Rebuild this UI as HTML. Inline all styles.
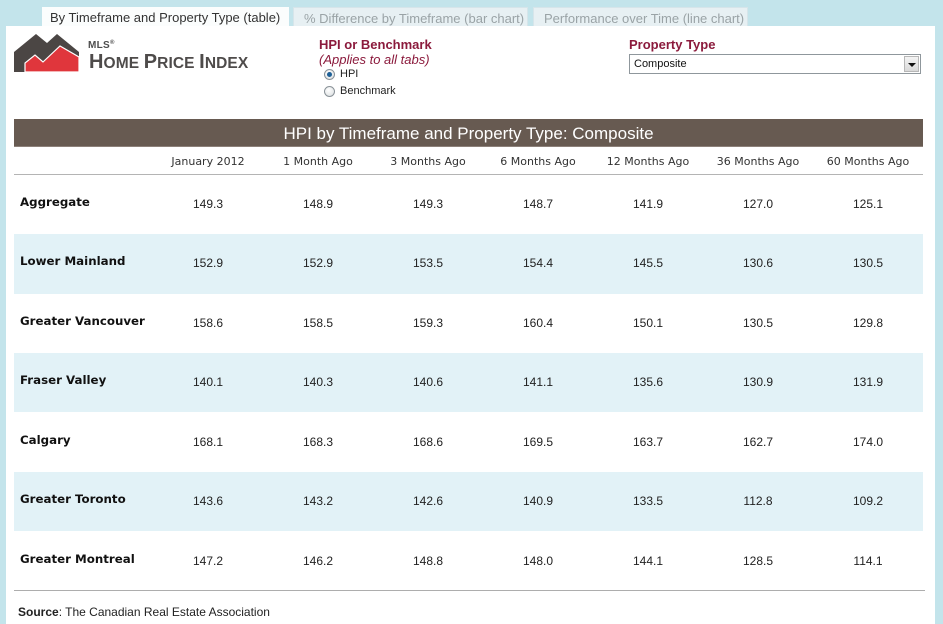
<!DOCTYPE html>
<html>
<head>
<meta charset="utf-8">
<style>
  html,body{margin:0;padding:0;}
  body{width:943px;height:624px;background:#c3e4eb;position:relative;overflow:hidden;font-family:"Liberation Sans",Arial,sans-serif;}
  .abs{position:absolute;}
  .panel{left:6px;top:26px;width:929px;height:598px;background:#fff;}
  .tab{top:7px;height:19px;font-size:13px;line-height:21px;box-sizing:border-box;white-space:nowrap;}
  .tab1{left:42px;width:247px;background:#fbfdfd;color:#333;padding-left:8px;}
  .tab2{left:293px;width:235px;background:#e7f0f3;color:#9aa3a6;padding-left:10px;border:1px solid #d6e5ea;border-bottom:none;}
  .tab3{left:533px;width:215px;background:#e7f0f3;color:#9aa3a6;padding-left:10px;border:1px solid #d6e5ea;border-bottom:none;}
  .lbl{font-size:13px;font-weight:bold;color:#8b1a3c;white-space:nowrap;}
  .ital{font-size:13px;font-style:italic;color:#8b1a3c;white-space:nowrap;}
  .rtext{font-size:11px;color:#222;white-space:nowrap;}
  .radio{width:11px;height:11px;border-radius:50%;border:1px solid #8a9298;background:radial-gradient(circle at 40% 35%,#fff,#d8dcde);box-sizing:border-box;}
  .radio.on::after{content:"";position:absolute;left:2px;top:2px;width:5px;height:5px;border-radius:50%;background:#1d5f96;}
  .sel{left:629px;top:54px;width:292px;height:20px;border:1px solid #8f979c;box-sizing:border-box;background:#fff;font-size:11px;line-height:18px;padding-left:4px;color:#111;}
  .selbtn{right:1px;top:1px;width:15px;height:16px;background:linear-gradient(#f4f4f4,#d9d9d9);border:1px solid #b7b7b7;box-sizing:border-box;}
  .selbtn::after{content:"";position:absolute;left:3px;top:6px;border-left:4px solid transparent;border-right:4px solid transparent;border-top:4px solid #111;}
  .titlebar{left:14px;top:119px;width:909px;height:28px;background:#675a51;color:#fff;font-size:17px;line-height:29px;text-align:center;border-bottom:1px solid #8d817a;box-sizing:border-box;}
  .hdr{top:148px;height:26px;font-family:"DejaVu Sans",Verdana,sans-serif;font-size:11px;line-height:27px;color:#333;text-align:center;width:110px;white-space:nowrap;}
  .hline{left:14px;top:174px;width:909px;height:1px;background:#b4b4b4;}
  .row{left:14px;width:909px;height:59.3px;}
  .blue{background:#e2f2f7;}
  .name{left:20px;font-family:"DejaVu Sans",Verdana,sans-serif;font-weight:bold;font-size:11.8px;color:#111;white-space:nowrap;}
  .val{width:110px;text-align:center;font-size:12px;color:#222;}
  .bline{left:14px;top:590px;width:911px;height:1px;background:#adadad;}
  .src{left:18px;top:605px;font-size:12px;color:#222;white-space:nowrap;}
</style>
</head>
<body>
  <div class="abs panel"></div>
  <div class="abs tab tab1">By Timeframe and Property Type (table)</div>
  <div class="abs tab tab2">% Difference by Timeframe (bar chart)</div>
  <div class="abs tab tab3">Performance over Time (line chart)</div>

  <!-- Logo -->
  <svg class="abs" style="left:0;top:0" width="90" height="80" viewBox="0 0 90 80">
    <polygon points="14,52 36,34 47,43 57,34 79,52 79,72 14,72" fill="#4b4644"/>
    <polygon points="25,72 25,63 35,55 43,62 60,46 79,57 79,72" fill="#e0363c" stroke="#fff" stroke-width="1.2"/>
  </svg>
  <div class="abs" style="left:88px;top:40px;font-size:10px;font-weight:bold;color:#4d4d4d;letter-spacing:0.3px;">MLS<sup style="font-size:6px;vertical-align:4px;">®</sup></div>
  <div class="abs" style="left:89px;top:51px;font-weight:bold;color:#4e4b4a;white-space:nowrap;line-height:22px;letter-spacing:0.1px;">
    <span style="font-size:20px;">H</span><span style="font-size:15.5px;">OME</span> <span style="font-size:20px;">P</span><span style="font-size:15.5px;">RICE</span> <span style="font-size:20px;">I</span><span style="font-size:15.5px;">NDEX</span>
  </div>

  <!-- HPI or Benchmark -->
  <div class="abs lbl" style="left:319px;top:37px;">HPI or Benchmark</div>
  <div class="abs ital" style="left:319px;top:52px;">(Applies to all tabs)</div>
  <div class="abs radio on" style="left:324px;top:69px;"></div>
  <div class="abs rtext" style="left:340px;top:68px;">HPI</div>
  <div class="abs radio" style="left:324px;top:86px;"></div>
  <div class="abs rtext" style="left:340px;top:85px;">Benchmark</div>

  <!-- Property Type -->
  <div class="abs lbl" style="left:629px;top:37px;">Property Type</div>
  <div class="abs sel">Composite<div class="abs selbtn"></div></div>

  <!-- Table -->
  <div class="abs titlebar">HPI by Timeframe and Property Type: Composite</div>

  <div class="abs hdr" style="left:153px;">January 2012</div>
  <div class="abs hdr" style="left:263px;">1 Month Ago</div>
  <div class="abs hdr" style="left:373px;">3 Months Ago</div>
  <div class="abs hdr" style="left:483px;">6 Months Ago</div>
  <div class="abs hdr" style="left:593px;">12 Months Ago</div>
  <div class="abs hdr" style="left:703px;">36 Months Ago</div>
  <div class="abs hdr" style="left:813px;">60 Months Ago</div>
  <div class="abs hline"></div>

  <div class="abs row" style="top:175px;"></div>
  <div class="abs row blue" style="top:234.3px;"></div>
  <div class="abs row" style="top:293.6px;"></div>
  <div class="abs row blue" style="top:352.9px;"></div>
  <div class="abs row" style="top:412.2px;"></div>
  <div class="abs row blue" style="top:471.5px;"></div>
  <div class="abs row" style="top:530.8px;"></div>

  <!-- Row 1 -->
  <div class="abs name" style="top:195px;">Aggregate</div>
  <div class="abs val" style="left:153px;top:197px;">149.3</div>
  <div class="abs val" style="left:263px;top:197px;">148.9</div>
  <div class="abs val" style="left:373px;top:197px;">149.3</div>
  <div class="abs val" style="left:483px;top:197px;">148.7</div>
  <div class="abs val" style="left:593px;top:197px;">141.9</div>
  <div class="abs val" style="left:703px;top:197px;">127.0</div>
  <div class="abs val" style="left:813px;top:197px;">125.1</div>
  <!-- Row 2 -->
  <div class="abs name" style="top:254px;">Lower Mainland</div>
  <div class="abs val" style="left:153px;top:256px;">152.9</div>
  <div class="abs val" style="left:263px;top:256px;">152.9</div>
  <div class="abs val" style="left:373px;top:256px;">153.5</div>
  <div class="abs val" style="left:483px;top:256px;">154.4</div>
  <div class="abs val" style="left:593px;top:256px;">145.5</div>
  <div class="abs val" style="left:703px;top:256px;">130.6</div>
  <div class="abs val" style="left:813px;top:256px;">130.5</div>
  <!-- Row 3 -->
  <div class="abs name" style="top:314px;">Greater Vancouver</div>
  <div class="abs val" style="left:153px;top:316px;">158.6</div>
  <div class="abs val" style="left:263px;top:316px;">158.5</div>
  <div class="abs val" style="left:373px;top:316px;">159.3</div>
  <div class="abs val" style="left:483px;top:316px;">160.4</div>
  <div class="abs val" style="left:593px;top:316px;">150.1</div>
  <div class="abs val" style="left:703px;top:316px;">130.5</div>
  <div class="abs val" style="left:813px;top:316px;">129.8</div>
  <!-- Row 4 -->
  <div class="abs name" style="top:373px;">Fraser Valley</div>
  <div class="abs val" style="left:153px;top:375px;">140.1</div>
  <div class="abs val" style="left:263px;top:375px;">140.3</div>
  <div class="abs val" style="left:373px;top:375px;">140.6</div>
  <div class="abs val" style="left:483px;top:375px;">141.1</div>
  <div class="abs val" style="left:593px;top:375px;">135.6</div>
  <div class="abs val" style="left:703px;top:375px;">130.9</div>
  <div class="abs val" style="left:813px;top:375px;">131.9</div>
  <!-- Row 5 -->
  <div class="abs name" style="top:433px;">Calgary</div>
  <div class="abs val" style="left:153px;top:435px;">168.1</div>
  <div class="abs val" style="left:263px;top:435px;">168.3</div>
  <div class="abs val" style="left:373px;top:435px;">168.6</div>
  <div class="abs val" style="left:483px;top:435px;">169.5</div>
  <div class="abs val" style="left:593px;top:435px;">163.7</div>
  <div class="abs val" style="left:703px;top:435px;">162.7</div>
  <div class="abs val" style="left:813px;top:435px;">174.0</div>
  <!-- Row 6 -->
  <div class="abs name" style="top:492px;">Greater Toronto</div>
  <div class="abs val" style="left:153px;top:494px;">143.6</div>
  <div class="abs val" style="left:263px;top:494px;">143.2</div>
  <div class="abs val" style="left:373px;top:494px;">142.6</div>
  <div class="abs val" style="left:483px;top:494px;">140.9</div>
  <div class="abs val" style="left:593px;top:494px;">133.5</div>
  <div class="abs val" style="left:703px;top:494px;">112.8</div>
  <div class="abs val" style="left:813px;top:494px;">109.2</div>
  <!-- Row 7 -->
  <div class="abs name" style="top:552px;">Greater Montreal</div>
  <div class="abs val" style="left:153px;top:554px;">147.2</div>
  <div class="abs val" style="left:263px;top:554px;">146.2</div>
  <div class="abs val" style="left:373px;top:554px;">148.8</div>
  <div class="abs val" style="left:483px;top:554px;">148.0</div>
  <div class="abs val" style="left:593px;top:554px;">144.1</div>
  <div class="abs val" style="left:703px;top:554px;">128.5</div>
  <div class="abs val" style="left:813px;top:554px;">114.1</div>

  <div class="abs bline"></div>
  <div class="abs src"><b>Source</b>: The Canadian Real Estate Association</div>
</body>
</html>
